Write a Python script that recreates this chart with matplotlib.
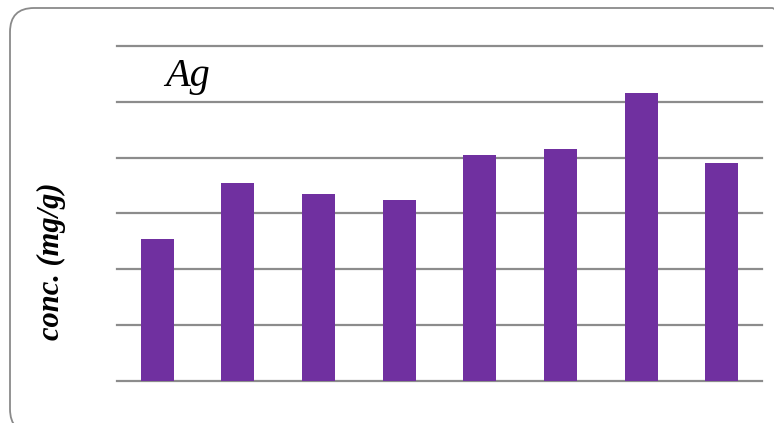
import matplotlib
matplotlib.use("Agg")
import matplotlib.pyplot as plt
from matplotlib.patches import FancyBboxPatch
from matplotlib.transforms import IdentityTransform

# Ag concentration per sample
samples = ["1", "2", "3", "4", "5", "6", "7", "8"]
ag_conc = [2.55, 3.55, 3.35, 3.25, 4.05, 4.15, 5.15, 3.9]
y_ticks = [0, 1, 2, 3, 4, 5, 6]

W, H, DPI = 774, 423, 100
fig = plt.figure(figsize=(W / DPI, H / DPI), dpi=DPI)
fig.patch.set_facecolor("white")

# rounded outer frame, in pixel units
frame = FancyBboxPatch((10, -10), 796 - 10, 415 + 10,
                       boxstyle="round,pad=0,rounding_size=24",
                       transform=IdentityTransform(), facecolor="none",
                       edgecolor="#8a8a8a", linewidth=1.3, zorder=0)
fig.patches.append(frame)

ax = fig.add_axes([117 / W, 1 - 381 / H, (762 - 117) / W, (381 - 46) / H])
x = range(len(samples))
ax.bar(x, ag_conc, width=0.41, color="#7030A0", zorder=3)

ax.set_xlim(-0.5, len(samples) - 0.5)
ax.set_ylim(y_ticks[0], y_ticks[-1])
ax.set_yticks(y_ticks)
ax.yaxis.grid(True, color="#8c8c8c", linewidth=1.6, zorder=1)
for gl in ax.get_ygridlines():
    gl.set_clip_on(False)
ax.set_axisbelow(True)
ax.tick_params(left=False, bottom=False, labelleft=False, labelbottom=False)
for s in ax.spines.values():
    s.set_visible(False)

ax.text(0.37, 5.28, "Ag", fontsize=29, fontstyle="italic",
        family="Liberation Serif", ha="center", va="baseline", zorder=4)

fig.text(51 / W, 1 - 261 / H, "conc. (mg/g)", rotation=90, fontsize=22,
         fontweight="bold", fontstyle="italic", family="Liberation Serif",
         ha="center", va="center")

fig.savefig("out.png", dpi=DPI, facecolor="white")
